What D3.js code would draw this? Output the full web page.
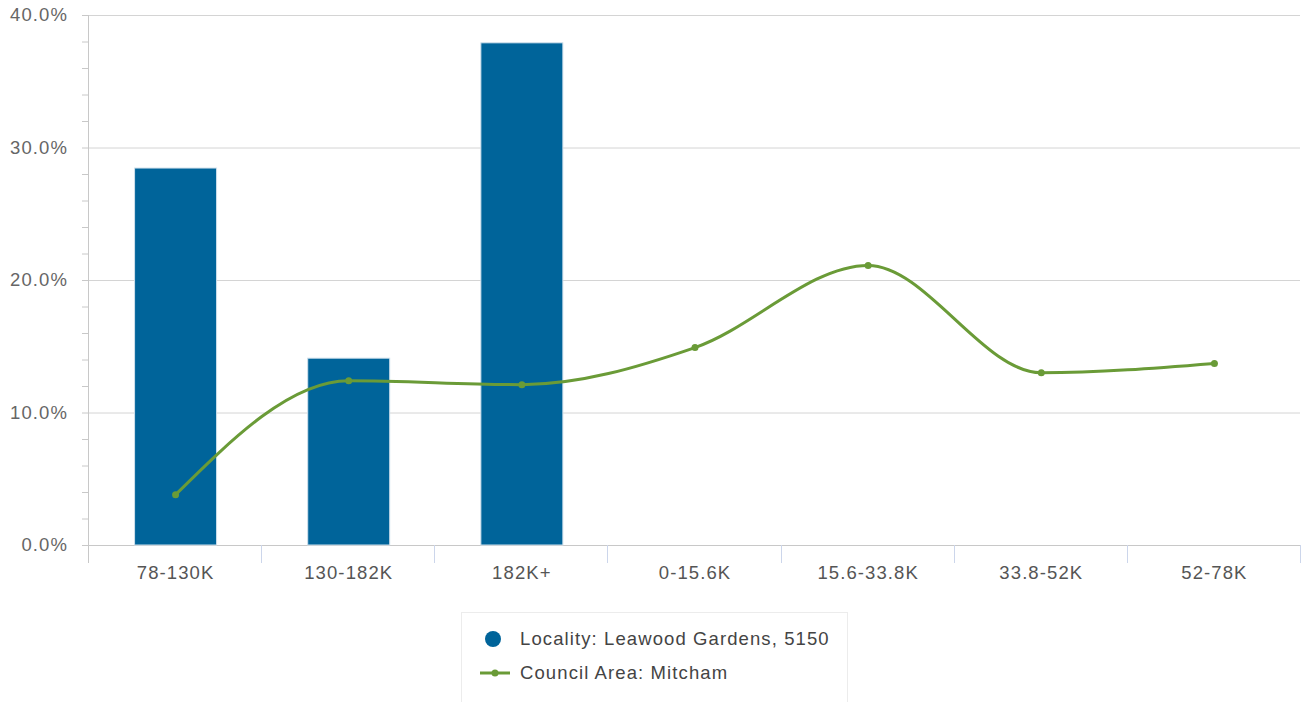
<!DOCTYPE html>
<html><head><meta charset="utf-8">
<script src="https://cdn.jsdelivr.net/npm/d3@7/dist/d3.min.js"></script>
<style>body{margin:0;background:#fff;font-family:"Liberation Sans",Arial,sans-serif;}
text{letter-spacing:1.1px;}</style>
</head><body><svg id="c" width="1301" height="702"></svg>
<script>
const categories = ["78-130K","130-182K","182K+","0-15.6K","15.6-33.8K","33.8-52K","52-78K"];
const localityValues = [28.45, 14.1, 37.9, null, null, null, null];
const councilValues = [3.8, 12.4, 12.1, 14.9, 21.1, 13.0, 13.7];
const yTicks = [0, 10, 20, 30, 40];
const seriesNames = ["Locality: Leawood Gardens, 5150", "Council Area: Mitcham"];

const svg = d3.select("#c");
const L = 88, R = 1300, T = 15, B = 545;
const x = d3.scaleBand().domain(categories).range([L, R]).paddingInner(0).paddingOuter(0);
const y = d3.scaleLinear().domain([0, 40]).range([B, T]);
const barColor = "#00649a", lineColor = "#6a9b37";
const FS = 18.5;

// gridlines
svg.append("g").selectAll("line").data(yTicks).join("line")
  .attr("x1", L).attr("x2", R).attr("y1", d => y(d)+0.5).attr("y2", d => y(d)+0.5)
  .attr("stroke", "#d4d4d4").attr("stroke-width", 1);

// y axis with minor ticks
const yMinor = d3.range(0, 40.01, 2);
svg.append("g").selectAll("line").data(yMinor).join("line")
  .attr("x1", L-6).attr("x2", L).attr("y1", d => y(d)+0.5).attr("y2", d => y(d)+0.5)
  .attr("stroke", "#c8c8c8");
svg.append("line").attr("x1", L+0.5).attr("x2", L+0.5).attr("y1", T).attr("y2", B+18).attr("stroke", "#c8c8c8");
svg.append("g").selectAll("text").data(yTicks).join("text")
  .attr("x", 68).attr("y", d => y(d)+6).attr("text-anchor", "end")
  .attr("font-size", FS).attr("fill", "#666").text(d => d.toFixed(1) + "%");

// x axis
const xAxis = d3.axisBottom(x).tickSize(0).tickPadding(0);
const gx = svg.append("g").attr("transform", `translate(1,${B})`).call(xAxis);
gx.select(".domain").remove();
gx.selectAll("text").attr("y", 34).attr("dy", 0).attr("font-size", FS).attr("fill", "#555")
  .attr("font-family", "Liberation Sans, Arial, sans-serif");
svg.append("line").attr("x1", L).attr("x2", R).attr("y1", B+0.5).attr("y2", B+0.5).attr("stroke", "#c8c8c8");
const seps = categories.map(c => x(c)).concat([R]);
svg.append("g").selectAll("line").data(seps.slice(1)).join("line")
  .attr("x1", d => Math.round(d)+0.5).attr("x2", d => Math.round(d)+0.5).attr("y1", B).attr("y2", B+18)
  .attr("stroke", "#ccd6eb");

// bars
const bw = 82;
svg.append("g").selectAll("rect").data(categories.map((c,i)=>({c, v: localityValues[i]})).filter(d=>d.v!=null))
  .join("rect")
  .attr("x", d => x(d.c) + x.bandwidth()/2 - bw/2 + 1).attr("width", bw)
  .attr("y", d => y(d.v)).attr("height", d => B - y(d.v))
  .attr("fill", barColor).attr("stroke", "#cfe0ec").attr("stroke-width", 1);

// line
const pts = categories.map((c,i)=>[x(c)+x.bandwidth()/2 + 1, y(councilValues[i])]);
svg.append("path").attr("d", d3.line().curve(d3.curveMonotoneX)(pts))
  .attr("fill", "none").attr("stroke", lineColor).attr("stroke-width", 3);
svg.append("g").selectAll("circle").data(pts).join("circle")
  .attr("cx", d=>d[0]).attr("cy", d=>d[1]).attr("r", 3.5).attr("fill", lineColor);

// legend
const lg = svg.append("g");
lg.append("rect").attr("x", 461.5).attr("y", 612.5).attr("width", 386).attr("height", 100)
  .attr("fill", "#fff").attr("stroke", "#ececec");
lg.append("circle").attr("cx", 493).attr("cy", 639).attr("r", 8).attr("fill", barColor);
lg.append("text").attr("x", 520).attr("y", 645).attr("font-size", FS).attr("fill", "#444").text(seriesNames[0]);
lg.append("line").attr("x1", 480).attr("x2", 510).attr("y1", 673).attr("y2", 673).attr("stroke", lineColor).attr("stroke-width", 3);
lg.append("circle").attr("cx", 495).attr("cy", 673).attr("r", 3.5).attr("fill", lineColor);
lg.append("text").attr("x", 520).attr("y", 679).attr("font-size", FS).attr("fill", "#444").text(seriesNames[1]);
</script></body></html>
